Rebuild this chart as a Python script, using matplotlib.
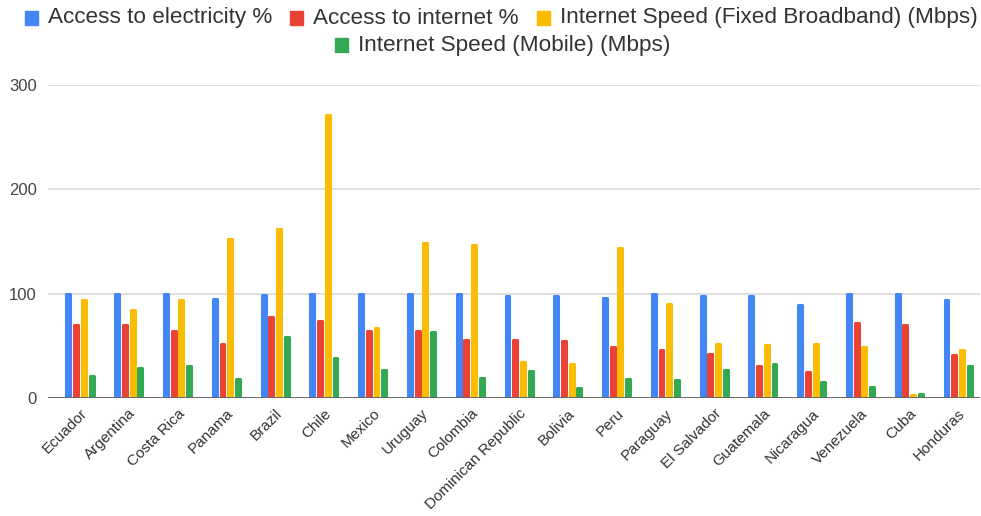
"""grouped bar chart: electricity / internet access and speeds in Latin America"""
import numpy as np
import matplotlib
matplotlib.use("Agg")
import matplotlib.pyplot as plt
from matplotlib.patches import Rectangle

plt.rcParams["font.family"] = ["Liberation Sans", "DejaVu Sans"]

countries = [
    "Ecuador", "Argentina", "Costa Rica", "Panama", "Brazil", "Chile", "Mexico",
    "Uruguay", "Colombia", "Dominican Republic", "Bolivia", "Peru", "Paraguay",
    "El Salvador", "Guatemala", "Nicaragua", "Venezuela", "Cuba", "Honduras",
]
electricity = [100, 100, 100, 94.5, 99, 100, 100, 100, 100, 97.8, 97.8, 95.8, 100,
               97.8, 97.8, 88.8, 100, 100, 94]
internet = [70, 70, 64.4, 51.3, 77.2, 74, 64.4, 64.4, 56, 56, 54.2, 49, 45.8,
            42.6, 30.4, 25.3, 71.5, 70.2, 41.3]
fixed_speed = [94, 84.3, 94, 152, 162, 270.8, 67, 149, 147, 34.3, 33, 143.3, 90,
               52.2, 51, 52.2, 49, 2.9, 45.8]
mobile_speed = [20.8, 28.5, 31, 18.3, 58.7, 38, 27.2, 63, 19, 26, 10, 18.3, 17,
                27.2, 33, 15, 10.6, 3.5, 30.4]

series_names = [
    "Access to electricity %",
    "Access to internet %",
    "Internet Speed (Fixed Broadband) (Mbps)",
    "Internet Speed (Mobile) (Mbps)",
]
series_vals = [electricity, internet, fixed_speed, mobile_speed]
colors = ["#4285F4", "#EA4335", "#FBBC04", "#34A853"]

fig = plt.figure(figsize=(9.81, 5.16), dpi=100)
W, H = 981, 516
ax = fig.add_axes([48 / W, 1 - 398 / H, (980 - 48) / W, (398 - 85) / H])

x = np.arange(len(countries))
pitch = 0.158
width = 0.08
for i, (vals, col) in enumerate(zip(series_vals, colors)):
    bars = ax.bar(x + (i - 1.5) * pitch, vals, width=width, color=col,
                  edgecolor=col, linewidth=2.2, zorder=3)
    for b in bars:
        b.set_joinstyle("round")

ax.set_ylim(0, 300)
ax.set_xlim(-0.656, 18.45)
ax.set_yticks([0, 100, 200, 300])
ax.yaxis.grid(True, color="#d9d9d9", linewidth=1.2, zorder=0)
ax.axhline(0, color="#666666", linewidth=1.4, zorder=4)
for s in ax.spines.values():
    s.set_visible(False)
ax.tick_params(axis="both", length=0, colors="#444444", labelsize=12)
ax.tick_params(axis="y", pad=8)
ax.set_xticks(x)
ax.set_xticklabels(countries, rotation=45, ha="right", rotation_mode="anchor",
                   fontsize=11, color="#333333")
ax.tick_params(axis="x", pad=6)

# legend drawn by hand so the second row is centred like the original
legend_rows = [
    [(0, 48), (1, 313), (2, 560)],
    [(3, 358)],
]
row_y = [18, 45]
for row, yy in zip(legend_rows, row_y):
    for idx, tx in row:
        fig.patches.append(Rectangle(((tx - 23) / W, 1 - (yy + 6.5) / H), 13 / W, 13 / H,
                                     transform=fig.transFigure, color=colors[idx]))
        fig.text(tx / W, 1 - yy / H, series_names[idx], fontsize=16.2,
                 color="#333333", va="center", ha="left")

fig.savefig("out.png", dpi=100)
